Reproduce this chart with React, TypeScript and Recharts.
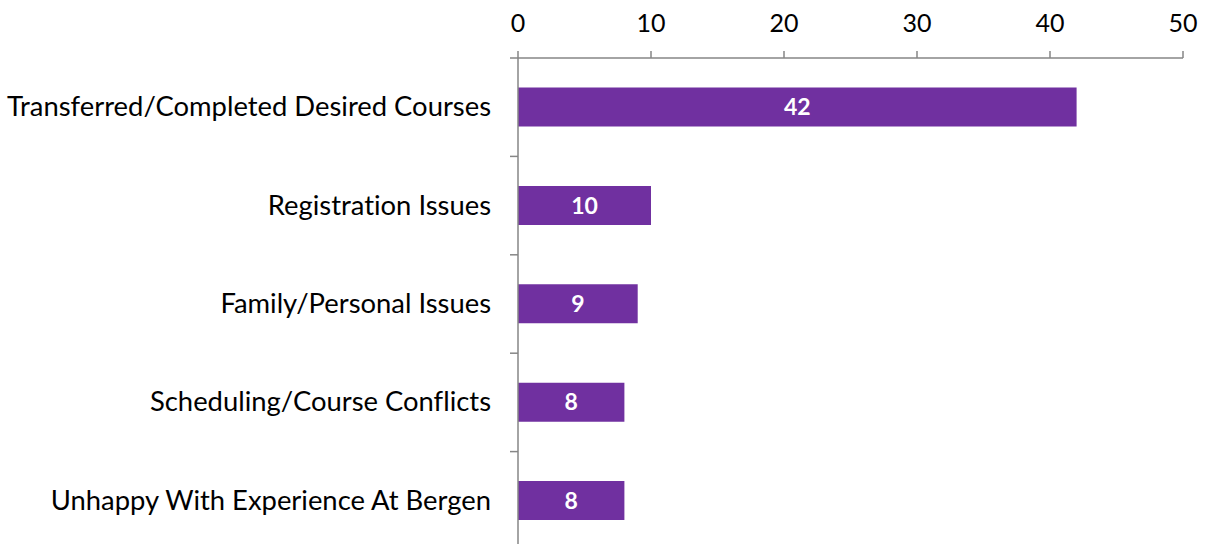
import { BarChart, Bar, XAxis, YAxis, LabelList } from 'recharts';

const reasons = [
  'Transferred/Completed Desired Courses',
  'Registration Issues',
  'Family/Personal Issues',
  'Scheduling/Course Conflicts',
  'Unhappy With Experience At Bergen',
];
const counts = [42, 10, 9, 8, 8];
const xTicks = [0, 10, 20, 30, 40, 50];

const data = reasons.map((name, i) => ({ name, value: counts[i] }));

const FONT = 'Lato, "Open Sans", sans-serif';
const AXIS = '#868686';
const PURPLE = '#7030A0';

function ReasonTick(props: any) {
  const { x, y, payload } = props;
  const half = payload?.offset ?? 49;
  return (
    <g>
      <text
        x={x}
        y={y}
        dy={9}
        textAnchor="end"
        fill="#000"
        fontSize={27.4}
        fontFamily={FONT}
        style={{ fontVariantLigatures: 'none' }}
      >
        {payload.value}
      </text>
      <line x1={x + 19} x2={x + 27} y1={y - half} y2={y - half} stroke={AXIS} strokeWidth={1.5} />
    </g>
  );
}

export default function App() {
  return (
    <div style={{ position: 'fixed', top: 0, left: 0, width: 1209, height: 544, overflow: 'hidden', background: '#fff' }}>
      <BarChart
        width={1209}
        height={550}
        data={data}
        layout="vertical"
        margin={{ top: 0, right: 26, bottom: 0, left: 0 }}
        barCategoryGap="30%"
      >
        <XAxis
          type="number"
          orientation="top"
          domain={[0, 50]}
          ticks={xTicks}
          height={58}
          tickSize={7}
          tickMargin={19}
          axisLine={{ stroke: AXIS, strokeWidth: 1.5 }}
          tickLine={{ stroke: AXIS, strokeWidth: 1.5 }}
          tick={{ fill: '#000', fontSize: 25, fontFamily: FONT }}
        />
        <YAxis
          type="category"
          dataKey="name"
          width={518}
          tickSize={8}
          tickMargin={19}
          tickLine={false}
          axisLine={{ stroke: AXIS, strokeWidth: 1.5 }}
          tick={<ReasonTick />}
          interval={0}
        />
        <Bar dataKey="value" fill={PURPLE} isAnimationActive={false}>
          <LabelList dataKey="value" position="center" fill="#fff" fontSize={23} fontWeight="bold" fontFamily={FONT} />
        </Bar>
      </BarChart>
    </div>
  );
}
